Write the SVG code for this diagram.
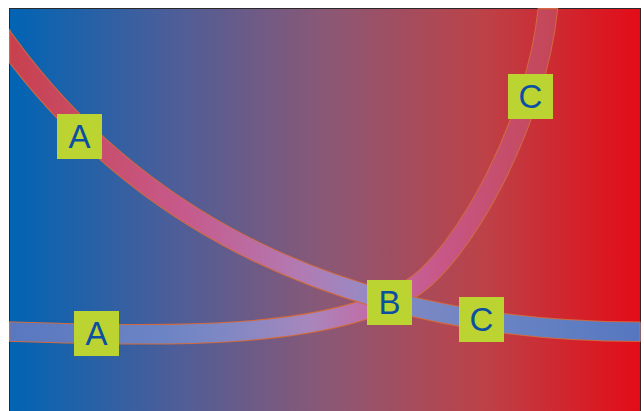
<svg xmlns="http://www.w3.org/2000/svg" width="644" height="411" viewBox="0 0 644 411">
  <defs>
    <linearGradient id="bg" gradientUnits="userSpaceOnUse" x1="9" y1="0" x2="640" y2="0">
      <stop offset="0" stop-color="#0064b4"/>
      <stop offset="0.25" stop-color="#4a5e9a"/>
      <stop offset="0.5" stop-color="#8a5876"/>
      <stop offset="0.75" stop-color="#bc4248"/>
      <stop offset="1" stop-color="#e30c17"/>
    </linearGradient>
    <linearGradient id="band1" gradientUnits="userSpaceOnUse" x1="9" y1="0" x2="640" y2="0">
      <stop offset="0" stop-color="#c8404e"/>
      <stop offset="0.1" stop-color="#c84a62"/>
      <stop offset="0.28" stop-color="#c65a8c"/>
      <stop offset="0.46" stop-color="#b27ab2"/>
      <stop offset="0.55" stop-color="#9c88c2"/>
      <stop offset="0.65" stop-color="#7a88c4"/>
      <stop offset="0.85" stop-color="#6280c2"/>
      <stop offset="1" stop-color="#5676c0"/>
    </linearGradient>
    <linearGradient id="band2" gradientUnits="userSpaceOnUse" x1="9" y1="0" x2="557" y2="0">
      <stop offset="0" stop-color="#5878c0"/>
      <stop offset="0.28" stop-color="#6c84c4"/>
      <stop offset="0.4" stop-color="#8088c4"/>
      <stop offset="0.55" stop-color="#a886bc"/>
      <stop offset="0.65" stop-color="#c06ea8"/>
      <stop offset="0.78" stop-color="#c8588a"/>
      <stop offset="0.9" stop-color="#c64e6c"/>
      <stop offset="1" stop-color="#c44556"/>
    </linearGradient>
    <clipPath id="frame">
      <rect x="9" y="8" width="631.5" height="403"/>
    </clipPath>
    <!-- falling band: steep at the left, levelling off to the right -->
    <path id="curve1" d="M -15 13.6 L 9 46 C 119 194.5 310 331.7 640 331.7 L 670 331.7"/>
    <!-- rising band: flat at the left, turning up towards the top edge -->
    <path id="curve2" d="M -20 331 L 9 331.5 C 159 336 327.7 341.7 412 288 C 462.6 255.8 536.5 123 548 8 L 551 -25"/>
  </defs>
  <style>
    .edge { fill: none; stroke: #d06a3e; stroke-width: 20.5; }
    .core { fill: none; stroke-width: 18.5; }
    .end { stroke: #d06a3e; stroke-width: 1.2; fill: none; }
    .tag { fill: #bcd432; }
    .tag-text { font-family: "Liberation Sans", Arial, sans-serif; font-size: 33px; fill: #0b4ea2; text-anchor: middle; }
  </style>

  <!-- backdrop panel -->
  <rect x="9.5" y="8.5" width="631" height="410" fill="url(#bg)" stroke="#2a2a2a" stroke-width="1"/>

  <g id="connectors" clip-path="url(#frame)">
    <g id="band-rising">
      <use href="#curve2" class="edge"/>
      <use href="#curve2" class="core" stroke="url(#band2)"/>
    </g>
    <g id="band-falling">
      <use href="#curve1" class="edge"/>
      <use href="#curve1" class="core" stroke="url(#band1)"/>
    </g>
    <!-- outlined band ends along the frame -->
    <line class="end" x1="9.6" y1="29" x2="9.6" y2="63"/>
    <line class="end" x1="9.6" y1="322" x2="9.6" y2="341"/>
    <line class="end" x1="640" y1="322" x2="640" y2="341.5"/>
    <line class="end" x1="539" y1="8.6" x2="557" y2="8.6"/>
  </g>

  <g id="label-a1">
    <rect class="tag" x="57" y="114" width="45" height="45"/>
    <text class="tag-text" x="79.5" y="148.3">A</text>
  </g>
  <g id="label-a2">
    <rect class="tag" x="74" y="311" width="45" height="45"/>
    <text class="tag-text" x="96.5" y="345.3">A</text>
  </g>
  <g id="label-b">
    <rect class="tag" x="367" y="280" width="45" height="45"/>
    <text class="tag-text" x="389.5" y="314.3">B</text>
  </g>
  <g id="label-c1">
    <rect class="tag" x="508" y="74" width="45" height="45"/>
    <text class="tag-text" x="530.5" y="108.3">C</text>
  </g>
  <g id="label-c2">
    <rect class="tag" x="459" y="297" width="45" height="45"/>
    <text class="tag-text" x="481.5" y="331.3">C</text>
  </g>
</svg>
